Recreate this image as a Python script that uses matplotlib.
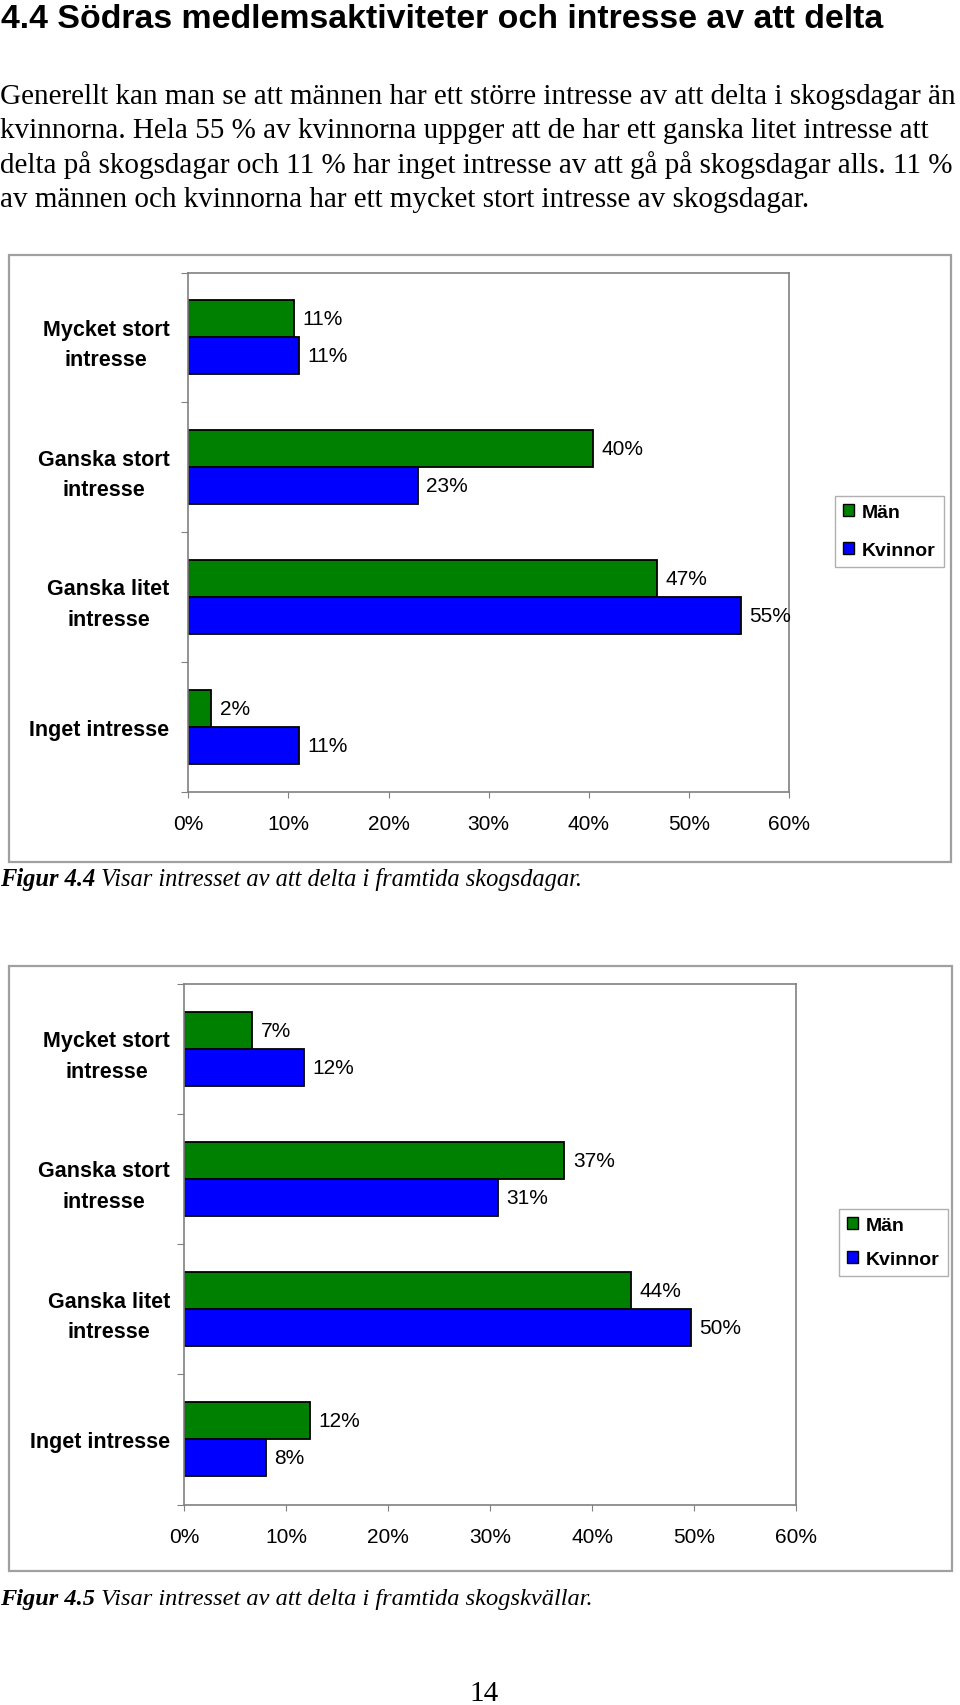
import numpy as np
import matplotlib
matplotlib.use("Agg")
import matplotlib.pyplot as plt
from matplotlib.patches import Rectangle, Patch
from matplotlib.ticker import FuncFormatter

# ---------------- data ----------------
categories = ["Mycket stort\nintresse", "Ganska stort\nintresse",
              "Ganska litet\nintresse", "Inget intresse"]
series = ["Män", "Kvinnor"]
colors = ["#008000", "#0000FF"]

fig1_man = [10.6, 40.4, 46.8, 2.3]
fig1_kvinnor = [11.1, 22.9, 55.2, 11.1]

fig2_man = [6.7, 37.3, 43.8, 12.4]
fig2_kvinnor = [11.8, 30.8, 49.7, 8.0]

xticks = [0, 10, 20, 30, 40, 50, 60]

title = "4.4 Södras medlemsaktiviteter och intresse av att delta"
body_lines = [
    "Generellt kan man se att männen har ett större intresse av att delta i skogsdagar än",
    "kvinnorna. Hela 55 % av kvinnorna uppger att de har ett ganska litet intresse att",
    "delta på skogsdagar och 11 % har inget intresse av att gå på skogsdagar alls. 11 %",
    "av männen och kvinnorna har ett mycket stort intresse av skogsdagar.",
]
cap1 = ("Figur 4.4", " Visar intresset av att delta i framtida skogsdagar.")
cap2 = ("Figur 4.5", " Visar intresset av att delta i framtida skogskvällar.")
page_no = "14"

# ---------------- layout ----------------
W, H = 960, 1706
plt.rcParams["font.family"] = ["Liberation Sans", "DejaVu Sans"]
fig = plt.figure(figsize=(W / 100, H / 100), dpi=100)
renderer = fig.canvas.get_renderer()
GRAY = "#808080"


def fy(y):
    return 1 - y / H


def px_rect(l, t, r, b):
    return [l / W, 1 - b / H, (r - l) / W, (b - t) / H]


def fit_text(x, y, s, target_w, size0=18, **kw):
    t = fig.text(x / W, fy(y), s, fontsize=size0, va="baseline", ha="left", **kw)
    w = t.get_window_extent(renderer).width
    t.set_fontsize(size0 * target_w / w)
    return t


# title
fit_text(1, 28, title, 884, family="Liberation Sans", weight="bold")

# body text
t0 = fit_text(0, 104, body_lines[0], 958, family="Liberation Serif")
bsize = t0.get_fontsize()
for i, line in enumerate(body_lines[1:], start=1):
    fig.text(0, fy(104 + i * 34.4), line, fontsize=bsize, va="baseline",
             ha="left", family="Liberation Serif")


def caption(y, parts, target_w):
    size0 = 18
    a = fig.text(0, fy(y), parts[0], fontsize=size0, va="baseline", ha="left",
                 family="Liberation Serif", style="italic", weight="bold")
    wa = a.get_window_extent(renderer).width
    b = fig.text(wa / W, fy(y), parts[1], fontsize=size0, va="baseline",
                 ha="left", family="Liberation Serif", style="italic")
    wb = b.get_window_extent(renderer).width
    k = target_w / (wa + wb)
    a.set_fontsize(size0 * k)
    b.set_fontsize(size0 * k)
    b.set_x(wa * k / W)


caption(886, cap1, 585)
caption(1605, cap2, 594)

fig.text(484 / W, fy(1701), page_no, fontsize=21, ha="center", va="baseline",
         family="Liberation Serif")


def chart(outer, plot, men, women, leg_xy, ypad, lspace):
    # outer chart-area border
    l, t, r, b = outer
    fig.patches.append(Rectangle((l / W, fy(b)), (r - l) / W, (b - t) / H,
                                 transform=fig.transFigure, fill=False,
                                 edgecolor="#a0a0a0", linewidth=1.6))
    ax = fig.add_axes(px_rect(*plot))
    y = np.arange(len(categories))
    h = 0.285
    b1 = ax.barh(y - h / 2, men, height=h, color=colors[0],
                 edgecolor="black", linewidth=1.3, label=series[0])
    b2 = ax.barh(y + h / 2, women, height=h, color=colors[1],
                 edgecolor="black", linewidth=1.3, label=series[1])
    ax.bar_label(b1, labels=[f"{round(v)}%" for v in men], padding=6,
                 fontsize=15)
    ax.bar_label(b2, labels=[f"{round(v)}%" for v in women], padding=6,
                 fontsize=15)
    ax.set_xlim(0, 60)
    ax.set_ylim(len(categories) - 0.5, -0.5)
    ax.set_xticks(xticks)
    ax.xaxis.set_major_formatter(FuncFormatter(lambda v, p: f"{v:.0f}%"))
    ax.set_yticks(np.arange(-0.5, len(categories), 1.0))
    ax.set_yticklabels([])
    ax.set_yticks(y, minor=True)
    ax.set_yticklabels(categories, minor=True)
    for lbl in ax.get_yticklabels(minor=True):
        lbl.set_fontweight("bold")
        lbl.set_multialignment("center")
        lbl.set_linespacing(1.6)
    ax.tick_params(axis="y", which="major", length=5, color=GRAY,
                   direction="out")
    ax.tick_params(axis="y", which="minor", length=0, pad=ypad, labelsize=15.5)
    ax.tick_params(axis="x", length=4, color=GRAY, direction="out",
                   pad=12.5, labelsize=15)
    for sp in ax.spines.values():
        sp.set_color(GRAY)
        sp.set_linewidth(1.2)
    handles = [Patch(facecolor=colors[0], edgecolor="black", linewidth=1),
               Patch(facecolor=colors[1], edgecolor="black", linewidth=1)]
    leg = ax.legend(handles, series, loc="upper left",
                    bbox_to_anchor=(leg_xy[0] / W, fy(leg_xy[1])),
                    bbox_transform=fig.transFigure, borderaxespad=0,
                    prop={"weight": "bold", "size": 14},
                    handlelength=0.57, handleheight=0.57, handletextpad=0.4,
                    labelspacing=lspace, borderpad=0.42, fancybox=False,
                    framealpha=1, edgecolor="#b0b0b0")
    leg.get_frame().set_linewidth(1.0)
    return ax


chart((9, 256, 951, 863), (188.3, 273.5, 789, 792.5),
      fig1_man, fig1_kvinnor, (835, 497), 13.5, 1.08)
chart((9, 967, 952, 1572), (184, 984.5, 796, 1505.5),
      fig2_man, fig2_kvinnor, (839, 1210), 10, 0.85)

fig.savefig("out.png", dpi=100, facecolor="white")
